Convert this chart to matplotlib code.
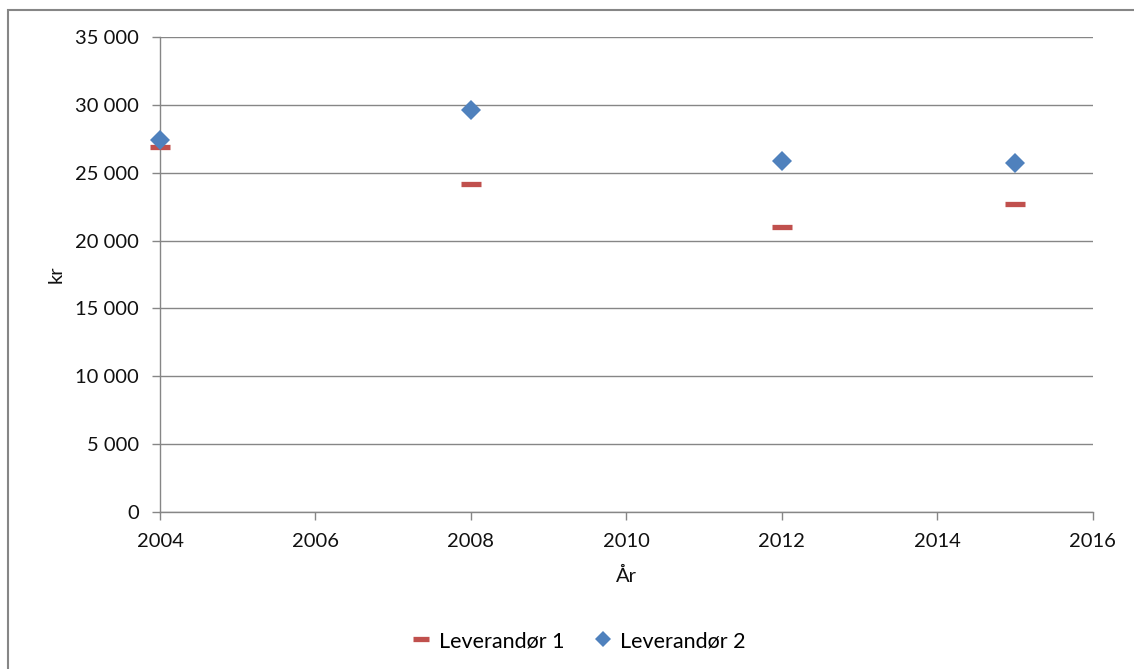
import matplotlib
matplotlib.use("Agg")
import matplotlib.pyplot as plt
from matplotlib.ticker import FuncFormatter, MultipleLocator
from matplotlib.patches import Rectangle

plt.rcParams['font.family'] = ['Lato', 'DejaVu Sans']

years = [2004, 2008, 2012, 2015]
leverandor1 = [26900, 24200, 21000, 22700]
leverandor2 = [27400, 29600, 25900, 25700]
series_names = ["Leverandør 1", "Leverandør 2"]
x_label = "År"
y_label = "kr"

W, H = 1134, 669
fig = plt.figure(figsize=(W / 100, H / 100), dpi=100)
ax = fig.add_axes([160 / W, 1 - 512 / H, (1092.7 - 160) / W, (512 - 37) / H])

grid_c = "#868686"
text_c = "#111111"
fs = 14.5
ax.set_xlim(2004, 2016)
ax.set_ylim(0, 35000)
ax.xaxis.set_major_locator(MultipleLocator(2))
ax.yaxis.set_major_locator(MultipleLocator(5000))
ax.yaxis.set_major_formatter(FuncFormatter(lambda v, p: f"{int(v):,}".replace(",", " ")))
ax.grid(axis='y', color=grid_c, lw=1.0)
ax.set_axisbelow(True)
for s in ("top", "right"):
    ax.spines[s].set_visible(False)
for s in ("left", "bottom"):
    ax.spines[s].set_color(grid_c)
    ax.spines[s].set_linewidth(1.0)
ax.tick_params(axis='both', colors=grid_c, labelcolor=text_c, labelsize=fs,
               length=6, width=1.0)
ax.tick_params(axis='y', pad=9)
ax.tick_params(axis='x', pad=9)

ax.plot(years, leverandor1, ls='none', marker='_', ms=14, mew=3.8,
        color="#C0504D", label=series_names[0], zorder=3, clip_on=False)
ax.plot(years, leverandor2, ls='none', marker='D', ms=10, mew=0,
        color="#4F81BD", label=series_names[1], zorder=4, clip_on=False)

ax.set_xlabel(x_label, fontsize=fs, color=text_c, labelpad=12)
ax.set_ylabel(y_label, fontsize=fs, color=text_c, labelpad=8)

fig.legend(loc='center', bbox_to_anchor=(578 / W, 1 - 641 / H), ncol=2,
           frameon=False, fontsize=15.5, handlelength=1.0, handletextpad=0.3,
           columnspacing=1.3, markerscale=0.8)

fig.patches.append(Rectangle((8 / W, -0.1), 1.2, 1.1 - 10 / H,
                             transform=fig.transFigure, fill=False,
                             edgecolor=grid_c, lw=1.5, clip_on=False))

fig.savefig("out.png", dpi=100)
